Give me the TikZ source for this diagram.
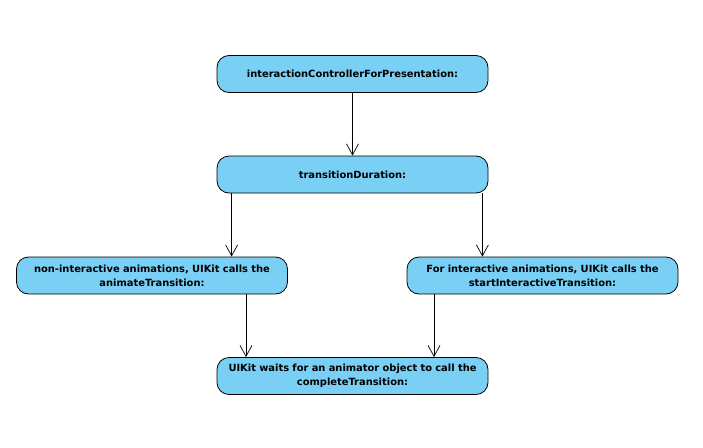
\documentclass[tikz,border=0pt]{standalone}
\usepackage{fontspec}
\setmainfont{DejaVu Sans}
\usetikzlibrary{arrows.meta}
\definecolor{boxblue}{RGB}{122,207,245}

\begin{document}
\begin{tikzpicture}[x=1pt,y=-1pt,
  step box/.style={draw=black,fill=boxblue,rounded corners=12pt,line width=0.8pt,
    minimum width=271pt,minimum height=37pt,align=center,text width=264pt,
    font=\bfseries\fontsize{9.9}{14}\selectfont,inner sep=0pt},
  flow/.style={draw=black,line width=0.7pt,-{Straight Barb[length=11pt,width=12pt,line width=0.7pt]}}]
  \useasboundingbox (0,0) rectangle (703,447);
  % steps
  \node[step box] (icp) at (352.5,74) {interactionControllerForPresentation:};
  \node[step box] (td)  at (352.5,174.5) {transitionDuration:};
  \node[step box] (nia) at (152,275.5) {non-interactive animations, UIKit calls the\\animateTransition:};
  \node[step box] (ia)  at (542.5,275.5) {For interactive animations, UIKit calls the\\startInteractiveTransition:};
  \node[step box] (ct)  at (352.5,376) {UIKit waits for an animator object to call the\\completeTransition:};
  % connectors
  \draw[flow] (icp.south) -- (td.north);
  \draw[flow] ([xshift=15pt]td.south west) -- ([xshift=15pt]td.south west |- nia.north);
  \draw[flow] ([xshift=-6pt]td.south east) -- ([xshift=-6pt]td.south east |- ia.north);
  \draw[flow] ([xshift=94pt]nia.south) -- ([xshift=94pt]nia.south |- ct.north);
  \draw[flow] ([xshift=-108.5pt]ia.south) -- ([xshift=-108.5pt]ia.south |- ct.north);
\end{tikzpicture}
\end{document}
